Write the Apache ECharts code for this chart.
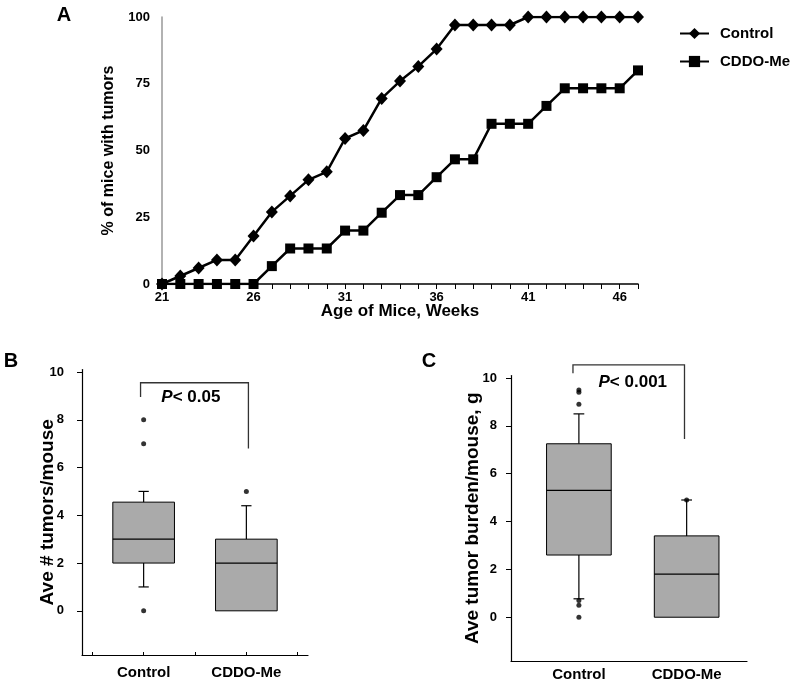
<!DOCTYPE html>
<html>
<head>
<meta charset="utf-8">
<script src="https://cdn.jsdelivr.net/npm/echarts@6/dist/echarts.min.js"></script>
<style>
html,body{margin:0;padding:0;background:#fff;}
#main{width:800px;height:682px;}
</style>
</head>
<body>
<div id="main"></div>
<script>
// ---------- Panel A data ----------
const weeks = [21,22,23,24,25,26,27,28,29,30,31,32,33,34,35,36,37,38,39,40,41,42,43,44,45,46,47];
const weekLabels = [21,26,31,36,41,46];
const controlPct = [0,3,6,9,9,18,27,33,39,42,54.5,57.5,69.5,76,81.5,88,97,97,97,97,100,100,100,100,100,100,100];
const cddoPct = [0,0,0,0,0,0,6.7,13.3,13.3,13.3,20,20,26.7,33.3,33.3,40,46.7,46.7,60,60,60,66.7,73.3,73.3,73.3,73.3,80];
const pctTicks = [0,25,50,75,100];

// ---------- Panels B / C data ----------
const groups = ['Control','CDDO-Me'];
const groupPos = [1,2];
const boxTicks = [0,2,4,6,8,10];
// [min, Q1, median, Q3, max]
const boxB_control = [1, 2, 3, 4.55, 5];
const boxB_cddo = [0, 0, 2, 3, 4.4];
const outB_control = [0, 7, 8];
const outB_cddo = [5];
const boxC_control = [0.77, 2.6, 5.3, 7.25, 8.5];
const boxC_cddo = [0, 0, 1.8, 3.4, 4.9];
const outC_control = [9.5, 9.4, 8.9, 0.7, 0.5, 0];
const outC_cddo = [4.9];
// significance brackets: x and y of the four corners
const bracketB_x = [0.97, 0.97, 2.02, 2.02];
const bracketB_y = [8.95, 9.55, 9.55, 6.8];
const bracketC_x = [0.945, 0.945, 1.98, 1.98];
const bracketC_y = [10.2, 10.55, 10.55, 7.45];
const pB = {x: 1.46, y: 8.95, text: '0.05'};
const pC = {x: 1.5, y: 9.83, text: '0.001'};

// ---------- styles ----------
const FONT = '"Liberation Sans", Arial, Helvetica, sans-serif';
const BOX_HALF = 0.3;
const CAP_HALF = 0.05;
const BOX_FILL = '#aaaaaa';

const chart = echarts.init(document.getElementById('main'), null, {renderer: 'canvas'});

function renderBox(params, api) {
  const x = api.value(0), lo = api.value(1), q1 = api.value(2), med = api.value(3), q3 = api.value(4), hi = api.value(5);
  const children = [];
  const wStyle = {stroke: '#000', lineWidth: 1.2};
  if (hi > q3) {
    const a = api.coord([x, q3]), b = api.coord([x, hi]);
    children.push({type: 'line', shape: {x1: a[0], y1: a[1], x2: b[0], y2: b[1]}, style: wStyle});
    const c1 = api.coord([x - CAP_HALF, hi]), c2 = api.coord([x + CAP_HALF, hi]);
    children.push({type: 'line', shape: {x1: c1[0], y1: c1[1], x2: c2[0], y2: c2[1]}, style: wStyle});
  }
  if (lo < q1) {
    const a = api.coord([x, q1]), b = api.coord([x, lo]);
    children.push({type: 'line', shape: {x1: a[0], y1: a[1], x2: b[0], y2: b[1]}, style: wStyle});
    const c1 = api.coord([x - CAP_HALF, lo]), c2 = api.coord([x + CAP_HALF, lo]);
    children.push({type: 'line', shape: {x1: c1[0], y1: c1[1], x2: c2[0], y2: c2[1]}, style: wStyle});
  }
  const tl = api.coord([x - BOX_HALF, q3]), br = api.coord([x + BOX_HALF, q1]);
  children.push({type: 'rect', shape: {x: tl[0], y: tl[1], width: br[0] - tl[0], height: br[1] - tl[1]},
    style: {fill: BOX_FILL, stroke: '#000', lineWidth: 1}});
  const m1 = api.coord([x - BOX_HALF, med]), m2 = api.coord([x + BOX_HALF, med]);
  children.push({type: 'line', shape: {x1: m1[0], y1: m1[1], x2: m2[0], y2: m2[1]}, style: {stroke: '#000', lineWidth: 1.2}});
  return {type: 'group', children};
}

function bracketSeries(idx, xs, ys, p) {
  return {
    type: 'custom', xAxisIndex: idx, yAxisIndex: idx, clip: false, silent: true, z: 5,
    data: [[p.x, p.y]],
    renderItem: function (params, api) {
      const pts = xs.map((xv, i) => api.coord([xv, ys[i]]));
      const t = api.coord([p.x, p.y]);
      return {type: 'group', children: [
        {type: 'polyline', shape: {points: pts}, style: {stroke: '#333', lineWidth: 1.3, fill: null}},
        {type: 'text', x: t[0], y: t[1], style: {
          text: '{i|P}{n|< ' + p.text + '}', align: 'center', verticalAlign: 'middle',
          rich: {
            i: {fontFamily: FONT, fontSize: 17, fontWeight: 'bold', fontStyle: 'italic', fill: '#000'},
            n: {fontFamily: FONT, fontSize: 17, fontWeight: 'bold', fill: '#000'}
          }
        }}
      ]};
    }
  };
}

function outlierData(pos, arr) { return arr.map(v => [pos, v]); }

const boxYAxis = (idx, min, name, gap, margin) => ({
  type: 'value', gridIndex: idx, min: min, max: 10.1,
  name: name, nameLocation: 'middle', nameGap: gap, nameRotate: 90, nameMoveOverlap: false,
  nameTextStyle: {fontFamily: FONT, fontSize: 19, fontWeight: 'bold', color: '#000'},
  axisLine: {show: true, lineStyle: {color: '#000', width: 1.2}},
  axisTick: {show: true, inside: false, length: 5, customValues: boxTicks, lineStyle: {color: '#000'}},
  axisLabel: {customValues: boxTicks, margin: margin, fontFamily: FONT, fontSize: 13, fontWeight: 'bold', color: '#000'},
  splitLine: {show: false}
});

const boxXAxis = (idx, min, max, ticks, showTicks, margin) => ({
  type: 'value', gridIndex: idx, min: min, max: max,
  axisLine: {show: true, onZero: false, lineStyle: {color: '#000', width: 1.2}},
  axisTick: {show: showTicks, inside: true, length: 3, customValues: ticks, lineStyle: {color: '#000'}},
  axisLabel: {customValues: groupPos, margin: margin, fontFamily: FONT, fontSize: 15, fontWeight: 'bold', color: '#000',
    formatter: v => groups[groupPos.indexOf(v)] || ''},
  splitLine: {show: false}
});

const option = {
  backgroundColor: '#fff',
  animation: false,
  textStyle: {fontFamily: FONT},
  graphic: [
    {type: 'text', x: 64, y: 15, style: {text: 'A', font: 'bold 20px ' + FONT, fill: '#000', align: 'center', verticalAlign: 'middle'}},
    {type: 'text', x: 11, y: 361, style: {text: 'B', font: 'bold 20px ' + FONT, fill: '#000', align: 'center', verticalAlign: 'middle'}},
    {type: 'text', x: 429, y: 361, style: {text: 'C', font: 'bold 20px ' + FONT, fill: '#000', align: 'center', verticalAlign: 'middle'}}
  ],
  legend: {
    data: ['Control', 'CDDO-Me'], orient: 'vertical', left: 679, top: 26, padding: 0,
    itemWidth: 29, itemHeight: 14, itemGap: 13,
    textStyle: {fontFamily: FONT, fontSize: 15, fontWeight: 'bold', color: '#000', padding: [0, 0, 0, 6]}
  },
  grid: [
    {left: 162, top: 17, width: 476, height: 267, containLabel: false},
    {left: 82, top: 369.6, width: 226, height: 285.4, containLabel: false},
    {left: 511, top: 375.6, width: 236, height: 286.4, containLabel: false}
  ],
  xAxis: [
    {
      type: 'value', gridIndex: 0, min: 21, max: 47, interval: 1,
      name: 'Age of Mice, Weeks', nameLocation: 'middle', nameGap: 19, nameMoveOverlap: false,
      nameTextStyle: {fontFamily: FONT, fontSize: 17, fontWeight: 'bold', color: '#000'},
      axisLine: {show: true, onZero: false, lineStyle: {color: '#000', width: 1.5}},
      axisTick: {show: true, inside: false, length: 5, lineStyle: {color: '#000'}},
      axisLabel: {margin: 7, fontFamily: FONT, fontSize: 13, fontWeight: 'bold', color: '#000',
        formatter: v => (weekLabels.indexOf(v) >= 0 ? String(v) : '')},
      splitLine: {show: false}
    },
    boxXAxis(1, 0.4, 2.6, [0.5, 1, 1.5, 2, 2.5], true, 10),
    boxXAxis(2, 0.37, 2.56, [], false, 6)
  ],
  yAxis: [
    {
      type: 'value', gridIndex: 0, min: 0, max: 100, interval: 25,
      name: '% of mice with tumors', nameLocation: 'middle', nameGap: 45, nameRotate: 90, nameMoveOverlap: false,
      nameTextStyle: {fontFamily: FONT, fontSize: 16, fontWeight: 'bold', color: '#000'},
      axisLine: {show: true, lineStyle: {color: '#999', width: 1.5}},
      axisTick: {show: false},
      axisLabel: {margin: 12, fontFamily: FONT, fontSize: 13, fontWeight: 'bold', color: '#000'},
      splitLine: {show: false}
    },
    boxYAxis(1, -1.85, 'Ave # tumors/mouse', 25, 18),
    boxYAxis(2, -1.83, 'Ave tumor burden/mouse, g', 29, 14)
  ],
  series: [
    {
      name: 'Control', type: 'line', xAxisIndex: 0, yAxisIndex: 0,
      data: weeks.map((w, i) => [w, controlPct[i]]),
      symbol: 'diamond', symbolSize: [12, 13],
      lineStyle: {color: '#000', width: 2.5}, itemStyle: {color: '#000'}, z: 3
    },
    {
      name: 'CDDO-Me', type: 'line', xAxisIndex: 0, yAxisIndex: 0,
      data: weeks.map((w, i) => [w, cddoPct[i]]),
      symbol: 'rect', symbolSize: 10,
      lineStyle: {color: '#000', width: 2.5}, itemStyle: {color: '#000'}, z: 4
    },
    {
      type: 'custom', xAxisIndex: 1, yAxisIndex: 1, renderItem: renderBox,
      encode: {x: 0, y: [1, 2, 3, 4, 5]},
      data: [[groupPos[0]].concat(boxB_control), [groupPos[1]].concat(boxB_cddo)]
    },
    {
      type: 'scatter', xAxisIndex: 1, yAxisIndex: 1, symbol: 'circle', symbolSize: 5,
      itemStyle: {color: '#000'}, z: 6,
      data: outlierData(groupPos[0], outB_control).concat(outlierData(groupPos[1], outB_cddo))
    },
    bracketSeries(1, bracketB_x, bracketB_y, pB),
    {
      type: 'custom', xAxisIndex: 2, yAxisIndex: 2, renderItem: renderBox,
      encode: {x: 0, y: [1, 2, 3, 4, 5]},
      data: [[groupPos[0]].concat(boxC_control), [groupPos[1]].concat(boxC_cddo)]
    },
    {
      type: 'scatter', xAxisIndex: 2, yAxisIndex: 2, symbol: 'circle', symbolSize: 5,
      itemStyle: {color: '#000'}, z: 6,
      data: outlierData(groupPos[0], outC_control).concat(outlierData(groupPos[1], outC_cddo))
    },
    bracketSeries(2, bracketC_x, bracketC_y, pC)
  ]
};
chart.setOption(option);
</script>
</body>
</html>
